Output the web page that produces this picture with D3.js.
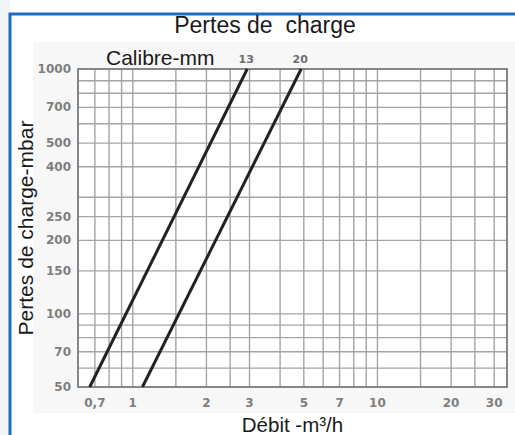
<!DOCTYPE html>
<html>
<head>
<meta charset="utf-8">
<script src="https://cdn.jsdelivr.net/npm/d3@7"></script>
<style>
  body { margin: 0; background: #ffffff; }
  svg { display: block; }
  .tick-label text { font-family: "DejaVu Sans", sans-serif; font-weight: bold; font-size: 12px; fill: #7e7e7e; }
</style>
</head>
<body>
<div id="graph"></div>
<script>
// débit (m3/h) / perte de charge (mbar)
const calibres = ["13", "20"];
const debit13 = [0.67, 2.95];
const perte13 = [50, 1000];
const debit20 = [1.1, 4.9];
const perte20 = [50, 1000];

const xTicks = [0.7, 1, 2, 3, 5, 7, 10, 20, 30];
const yTicks = [50, 70, 100, 150, 200, 250, 400, 500, 700, 1000];
const xGrid = [0.7, 0.8, 0.9, 1, 1.5, 2, 2.5, 3, 4, 5, 6, 7, 8, 9, 10, 15, 20, 25, 30];
const yGrid = [60, 70, 80, 90, 100, 150, 200, 250, 300, 400, 500, 600, 700, 800, 900];

const w = 515;
const h = 435;
const margin = { top: 69, right: 8, bottom: 48, left: 78 };
const innerWidth = w - margin.left - margin.right;
const innerHeight = h - margin.top - margin.bottom;

const xScale = d3.scaleLog().domain([0.6, 34]).range([margin.left, w - margin.right]);
const yScale = d3.scaleLog().domain([50, 1000]).range([h - margin.bottom, margin.top]);

const svg = d3.select("#graph").append("svg").attr("width", w).attr("height", h);

// fond gris clair à gauche du cadre
svg.append("rect").attr("x", 0).attr("y", 0).attr("width", 10).attr("height", h).attr("fill", "#f2f5f8");

// fond légèrement grisé de l'image d'origine
svg.append("rect").attr("x", 33).attr("y", 42).attr("width", w - 33).attr("height", 371).attr("fill", "#f7f7f7");

// cadre bleu
svg.append("path")
  .attr("d", `M10,${h + 5} L10,14 L${w + 5},14`)
  .attr("fill", "none")
  .attr("stroke", "#1f6bbd")
  .attr("stroke-width", 3);

// zone du graphe
svg.append("rect")
  .attr("x", margin.left).attr("y", margin.top)
  .attr("width", innerWidth).attr("height", innerHeight)
  .attr("fill", "#ffffff");

// grille
svg.append("g")
  .attr("class", "x-grid")
  .attr("transform", `translate(0, ${h - margin.bottom})`)
  .call(d3.axisBottom(xScale).tickValues(xGrid).tickSize(-innerHeight).tickFormat(""))
  .call(g => g.select(".domain").remove())
  .call(g => g.selectAll("line").attr("stroke", "#a4a4a4").attr("stroke-width", 1.4));

svg.append("g")
  .attr("class", "y-grid")
  .attr("transform", `translate(${margin.left}, 0)`)
  .call(d3.axisLeft(yScale).tickValues(yGrid).tickSize(-innerWidth).tickFormat(""))
  .call(g => g.select(".domain").remove())
  .call(g => g.selectAll("line").attr("stroke", "#a4a4a4").attr("stroke-width", 1.4));

svg.append("rect")
  .attr("x", margin.left).attr("y", margin.top)
  .attr("width", innerWidth).attr("height", innerHeight)
  .attr("fill", "none")
  .attr("stroke", "#7a7a7a")
  .attr("stroke-width", 1.8);

// axes (libellés seulement)
svg.append("g")
  .attr("id", "x-axis")
  .attr("class", "tick-label")
  .attr("transform", `translate(0, ${h - margin.bottom + 8})`)
  .call(d3.axisBottom(xScale).tickValues(xTicks).tickSize(0).tickFormat(d => String(d).replace(".", ",")))
  .call(g => g.select(".domain").remove());

svg.append("g")
  .attr("id", "y-axis")
  .attr("class", "tick-label")
  .attr("transform", `translate(${margin.left - 4}, 0)`)
  .call(d3.axisLeft(yScale).tickValues(yTicks).tickSize(0).tickFormat(d3.format("d")))
  .call(g => g.select(".domain").remove());

// courbes
const line = d3.line().x(d => xScale(d[0])).y(d => yScale(d[1]));
const series = [
  d3.zip(debit13, perte13),
  d3.zip(debit20, perte20)
];

svg.selectAll(".serie")
  .data(series)
  .enter()
  .append("path")
  .attr("class", "serie")
  .attr("d", line)
  .attr("fill", "none")
  .attr("stroke", "#222222")
  .attr("stroke-width", 3);

svg.selectAll(".calibre")
  .data(series)
  .enter()
  .append("text")
  .attr("class", "calibre")
  .attr("x", d => xScale(d[1][0]) - 1)
  .attr("y", margin.top - 6)
  .attr("text-anchor", "middle")
  .style("font-family", "DejaVu Sans, sans-serif")
  .style("font-weight", "bold")
  .style("font-size", "11px")
  .style("fill", "#6e6e6e")
  .text((d, i) => calibres[i]);

// textes
const font = "Liberation Sans, Arial, sans-serif";

svg.append("text")
  .attr("x", 265).attr("y", 33)
  .attr("text-anchor", "middle")
  .style("white-space", "pre")
  .style("font-family", font).style("font-size", "23px").style("fill", "#1a1a1a")
  .text("Pertes de  charge");

svg.append("text")
  .attr("x", 106).attr("y", 65)
  .style("font-family", font).style("font-size", "21px").style("fill", "#1a1a1a")
  .text("Calibre-mm");

svg.append("text")
  .attr("transform", "translate(33, 228) rotate(-90)")
  .attr("text-anchor", "middle")
  .style("font-family", font).style("font-size", "21px").style("fill", "#1a1a1a")
  .text("Pertes de charge-mbar");

svg.append("text")
  .attr("x", (margin.left + w - margin.right) / 2).attr("y", 432)
  .attr("text-anchor", "middle")
  .style("font-family", font).style("font-size", "20.5px").style("fill", "#1a1a1a")
  .text("Débit -m³/h");
</script>
</body>
</html>
